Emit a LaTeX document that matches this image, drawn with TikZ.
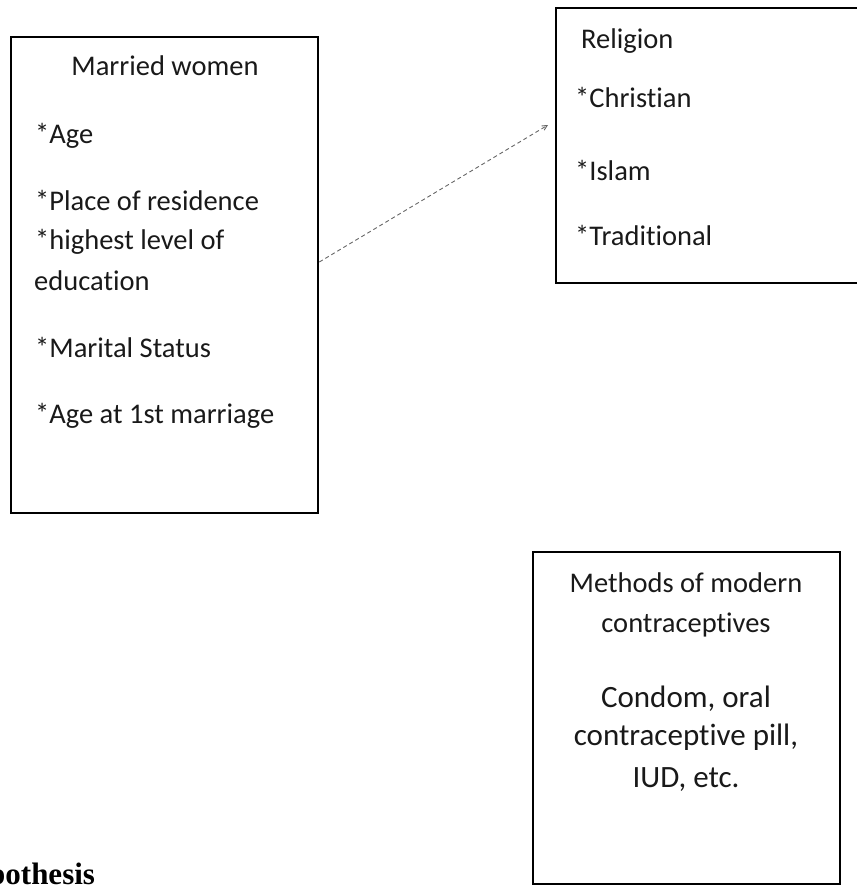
\documentclass[tikz,border=0pt]{standalone}
\usepackage{fontspec}
\setmainfont[Ligatures={NoCommon,NoContextual,NoRare}]{Carlito}
\newfontfamily\headfont{Liberation Serif}
\usetikzlibrary{arrows.meta}
\tikzset{
  box/.style={draw=black, line width=2.6bp, rectangle, inner sep=0pt},
  txt/.style={inner sep=0pt, font=\fontsize{28.5bp}{32bp}\selectfont, text=black!90},
  bigtxt/.style={inner sep=0pt, font=\fontsize{31bp}{36bp}\selectfont, text=black!90},
  conn/.style={draw=black!60, line width=0.9bp, dash pattern=on 4bp off 3bp, -{Straight Barb[length=5bp,width=5bp]}}
}
\begin{document}
\begin{tikzpicture}[x=1bp,y=-1bp]
\useasboundingbox (0,0) rectangle (857,888);
% boxes
\node[box, minimum width=307bp, minimum height=476bp] (mw) at (164.5,275) {};
\node[box, minimum width=310bp, minimum height=275bp] (rel) at (711,145.5) {};
\node[box, minimum width=307bp, minimum height=332bp] (meth) at (686.5,718) {};
% married women text
\node[txt, anchor=base] (mw0) at (165,75) {Married women};
\node[txt, anchor=base west] (mw1) at (35,143) {*Age};
\node[txt, anchor=base west] (mw2) at (35,210) {*Place of residence};
\node[txt, anchor=base west] (mw3) at (35,249) {*highest level of};
\node[txt, anchor=base west] (mw4) at (34,290) {education};
\node[txt, anchor=base west] (mw5) at (35,357) {*Marital Status};
\node[txt, anchor=base west] (mw6) at (35,423) {*Age at 1st marriage};
% religion text
\node[txt, anchor=base west] (r0) at (581,48) {Religion};
\node[txt, anchor=base west] (r1) at (575,107) {*Christian};
\node[txt, anchor=base west] (r2) at (575,180) {*Islam};
\node[txt, anchor=base west] (r3) at (575,245) {*Traditional};
% methods text
\node[txt, anchor=base] (m0) at (686,592) {Methods of modern};
\node[txt, anchor=base] (m1) at (686,632) {contraceptives};
\node[bigtxt, anchor=base] (m2) at (686,707) {Condom, oral};
\node[bigtxt, anchor=base] (m3) at (686,745) {contraceptive pill,};
\node[bigtxt, anchor=base] (m4) at (686,787) {IUD, etc.};
% heading fragment
\node[inner sep=0pt, anchor=base west, font=\headfont\bfseries\fontsize{31bp}{36bp}\selectfont] (hyp) at (-12,884) {pothesis};
% connector
\coordinate (aend) at (548,125);
\draw[conn] ([yshift=13bp]mw.east) -- (aend);
\end{tikzpicture}
\end{document}
